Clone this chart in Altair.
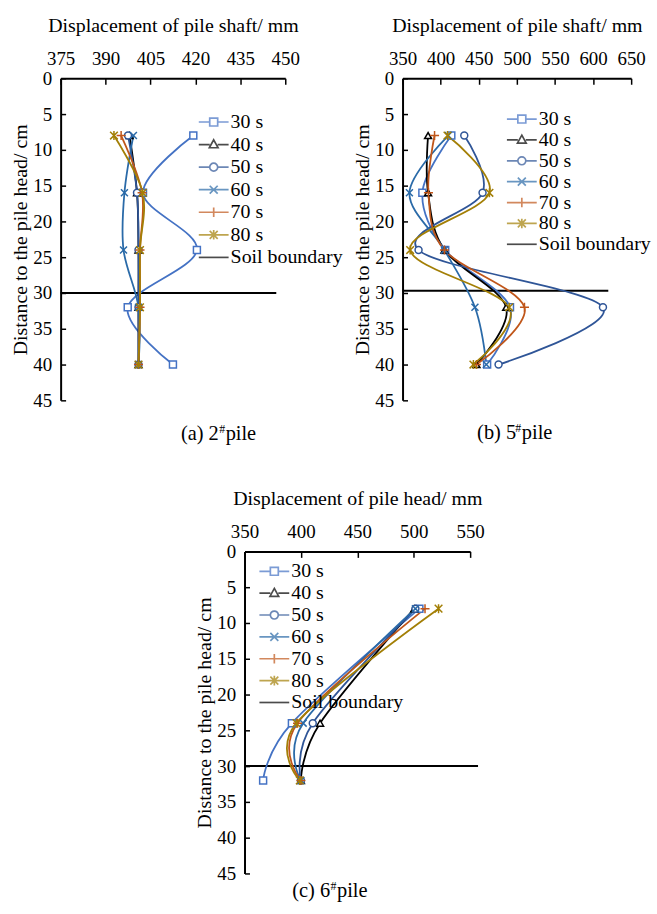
import altair as alt
import pandas as pd

FONT = "Liberation Serif"

# ---------------- data ----------------
series = ["30 s", "40 s", "50 s", "60 s", "70 s", "80 s"]
soil_label = "Soil boundary"
legend_labels = series + [soil_label]
colors = ["#4472C4", "#000000", "#2F5597", "#2A6AA8", "#C0561A", "#A37F06", "#000000"]

y_ticks = [0, 5, 10, 15, 20, 25, 30, 35, 40, 45]

# (a) 2# pile
depth_a = [8, 16, 24, 32, 40]
a_30 = [419.3, 402.5, 420.5, 397.4, 412.5]
a_40 = [398.0, 400.5, 401.0, 401.0, 401.0]
a_50 = [397.5, 400.5, 401.0, 401.0, 401.0]
a_60 = [399.3, 396.3, 396.0, 401.0, 401.0]
a_70 = [395.2, 402.2, 401.5, 401.5, 401.0]
a_80 = [392.8, 402.4, 401.5, 401.5, 401.0]
ticks_a = [375, 390, 405, 420, 435, 450]
soil_a = [375, 447]
soil_depth_a = 30

# (b) 5# pile
depth_b = [8, 16, 24, 32, 40]
b_30 = [414, 376, 406, 491, 461]
b_40 = [383.5, 383.5, 405, 486, 447]
b_50 = [431, 455, 371, 613, 476]
b_60 = [410, 359, 405, 445, 460]
b_70 = [392, 384, 405, 510, 447]
b_80 = [409, 464, 360, 490, 443]
ticks_b = [350, 400, 450, 500, 550, 600, 650]
soil_b = [350, 620]
soil_depth_b = 29.7

# (c) 6# pile
depth_c = [8, 24, 32]
c_30 = [505, 392, 366.5]
c_40 = [500.5, 417, 400]
c_50 = [501.5, 410.5, 400]
c_60 = [501.5, 402, 400]
c_70 = [510, 397, 400]
c_80 = [522, 396, 399]
ticks_c = [350, 400, 450, 500, 550]
soil_c = [350, 557]
soil_depth_c = 30

captions = {"a": ["(a) 2", "#", "pile"], "b": ["(b) 5", "#", "pile"], "c": ["(c) 6", "#", "pile"]}

# ---------------- styling helpers ----------------
marker_paths = [
    "M-1,-1H1V1H-1Z",
    "triangle-up",
    "circle",
    "M-1,-1L1,1M-1,1L1,-1",
    "M-1.3,0H1.3M0,-1.3V1.3",
    "M-1.1,-1.1L1.1,1.1M-1.1,1.1L1.1,-1.1M0,-1.3V1.3",
]

SYM = 20  # legend symbol box (px)


def legend_paths(u=SYM / 2, L=15.0, m=4.0):
    l = L / u
    k = m / u
    r = lambda v: f"{v:.3f}"
    gap = f"M{r(-l)},0H{r(-k)}M{r(k)},0H{r(l)}"
    full = f"M{r(-l)},0H{r(l)}"
    sq = gap + f"M{r(-k)},{r(-k)}H{r(k)}V{r(k)}H{r(-k)}Z"
    tri = gap + f"M0,{r(-k*1.2)}L{r(k*1.1)},{r(k*0.8)}H{r(-k*1.1)}Z"
    cir = gap + f"M{r(k)},0A{r(k)},{r(k)},0,1,1,{r(-k)},0A{r(k)},{r(k)},0,1,1,{r(k)},0Z"
    xs = f"M{r(-k)},{r(-k)}L{r(k)},{r(k)}M{r(-k)},{r(k)}L{r(k)},{r(-k)}"
    cross = full + xs
    plus = full + f"M0,{r(-k*1.2)}V{r(k*1.2)}"
    star = full + xs + f"M0,{r(-k*1.2)}V{r(k*1.2)}"
    return [sq, tri, cir, cross, plus, star, full]


def caption_layer(parts, cx, cy):
    d1 = pd.DataFrame({"t": [parts[0]]})
    d2 = pd.DataFrame({"t": [parts[1]]})
    d3 = pd.DataFrame({"t": [parts[2]]})
    base = dict(font=FONT, align="left", baseline="alphabetic", color="black")
    c1 = alt.Chart(d1).mark_text(fontSize=20.5, **base).encode(
        text="t:N", x=alt.value(cx), y=alt.value(cy))
    c2 = alt.Chart(d2).mark_text(fontSize=12, **base).encode(
        text="t:N", x=alt.value(cx + 38.5), y=alt.value(cy - 7))
    c3 = alt.Chart(d3).mark_text(fontSize=20.5, **base).encode(
        text="t:N", x=alt.value(cx + 45), y=alt.value(cy))
    return [c1, c2, c3]


def panel(depths, vals, ticks, soil_x, soil_depth, x_title, leg_xy, rowpad, cap, cap_xy):
    rows = []
    for s, v in zip(series, vals):
        for d, xv in zip(depths, v):
            rows.append({"series": s, "depth": d, "disp": xv})
    df = pd.DataFrame(rows)

    xscale = alt.Scale(domain=[ticks[0], ticks[-1]], nice=False, zero=False)
    yscale = alt.Scale(domain=[0, 45], reverse=True, nice=False, zero=False)
    x_axis = alt.Axis(
        orient="top", values=ticks, title=x_title, grid=False,
        titleFont=FONT, titleFontSize=20, titleFontWeight="normal", titleColor="black",
        titlePadding=14.5,
        labelFont=FONT, labelFontSize=19, labelColor="black", labelPadding=15.5,
        labelFlush=False, labelOverlap=False,
        tickSize={"expr": "-6"}, tickColor="black", tickWidth=1.5,
        domainColor="black", domainWidth=2,
    )
    y_axis = alt.Axis(
        values=y_ticks, title="Distance to the pile head/ cm", grid=False,
        titleFont=FONT, titleFontSize=20, titleFontWeight="normal", titleColor="black",
        titlePadding=2,
        labelFont=FONT, labelFontSize=19, labelColor="black", labelPadding=14,
        labelFlush=False, labelOverlap=False,
        tickSize={"expr": "-5"}, tickColor="black", tickWidth=1.5,
        domainColor="black", domainWidth=2,
    )
    X = alt.X("disp:Q", scale=xscale, axis=x_axis)
    Y = alt.Y("depth:Q", scale=yscale, axis=y_axis)
    cscale = alt.Scale(domain=legend_labels, range=colors)

    lines = alt.Chart(df).mark_line(interpolate="cardinal", strokeWidth=1.8).encode(
        x=X, y=Y,
        color=alt.Color("series:N", scale=cscale, legend=None),
        order=alt.Order("depth:Q"),
    )
    points = alt.Chart(df).mark_point(filled=False, fill="white", size=49, strokeWidth=1.5, opacity=1).encode(
        x=X, y=Y,
        color=alt.Color("series:N", scale=cscale, legend=None),
        shape=alt.Shape("series:N", scale=alt.Scale(domain=series, range=marker_paths), legend=None),
    )
    soil_df = pd.DataFrame({"disp": [soil_x[0]], "disp2": [soil_x[1]], "depth": [soil_depth]})
    soil = alt.Chart(soil_df).mark_rule(color="black", strokeWidth=2).encode(
        x=X, x2="disp2:Q", y=Y,
    )
    leg = alt.Legend(
        orient="none", legendX=leg_xy[0], legendY=leg_xy[1], direction="vertical",
        labelFont=FONT, labelFontSize=20, labelColor="black",
        symbolSize=SYM * SYM, symbolStrokeWidth=1.7, rowPadding=rowpad,
        labelOffset=6, padding=0,
    )
    leg_df = pd.DataFrame({"label": legend_labels})
    legend_layer = alt.Chart(leg_df).transform_filter("false").mark_point(
        filled=False, fill="white", strokeWidth=1.7
    ).encode(
        color=alt.Color("label:N", scale=cscale, legend=leg, title=None),
        shape=alt.Shape("label:N", scale=alt.Scale(domain=legend_labels, range=legend_paths()),
                        legend=leg, title=None),
    )
    caps = caption_layer(cap, cap_xy[0], cap_xy[1])
    ch = alt.layer(soil, lines, points, legend_layer, *caps).resolve_scale(
        color="independent", shape="independent"
    )
    return ch


pa = panel(depth_a, [a_30, a_40, a_50, a_60, a_70, a_80], ticks_a, soil_a, soil_depth_a,
           "Displacement of pile shaft/ mm", (143, 33), 1.7, captions["a"], (121, 364)).properties(width=226, height=324)
pb = panel(depth_b, [b_30, b_40, b_50, b_60, b_70, b_80], ticks_b, soil_b, soil_depth_b,
           "Displacement of pile shaft/ mm", (109, 30), 0, captions["b"], (75, 363)).properties(width=230, height=324)
pc = panel(depth_c, [c_30, c_40, c_50, c_60, c_70, c_80], ticks_c, soil_c, soil_depth_c,
           "Displacement of pile head/ mm", (19, 9), 1, captions["c"], (48, 348)).properties(width=227, height=324)

spacer = alt.Chart(pd.DataFrame({"v": [0]})).mark_point(opacity=0, size=1).encode(
    x=alt.value(5), y=alt.value(5)
).properties(width=160, height=10)

top = alt.hconcat(pa, pb, spacing=118, bounds="flush")
bottom = alt.hconcat(spacer, pc, spacing=25, bounds="flush")
chart = alt.vconcat(top, bottom, spacing=43).properties(
    padding={"left": 10, "top": 12, "right": 5, "bottom": 5},
    background="white",
).configure_view(stroke="transparent")

chart.save("out.html", embed_options={"renderer": "svg", "actions": False})
